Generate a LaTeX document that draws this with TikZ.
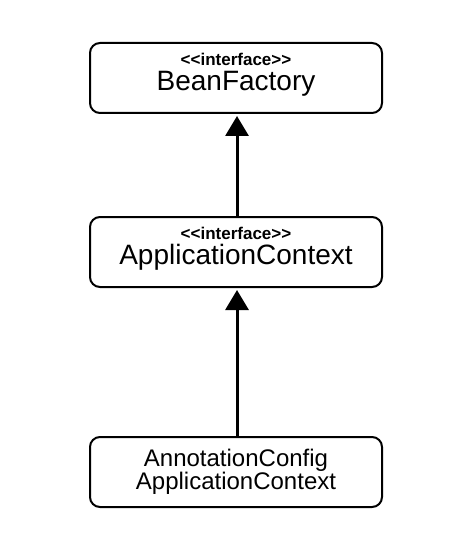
\documentclass[tikz,border=0pt]{standalone}
\usepackage{fontspec}
\newfontfamily\umlfont{Liberation Sans}
\usetikzlibrary{arrows.meta}

\begin{document}
\begin{tikzpicture}[
    x=1pt, y=-1pt,
    class box/.style={draw=black, line width=2pt, rounded corners=10pt, fill=white,
        minimum width=292pt, minimum height=70pt, inner sep=0pt, align=center},
    big name/.style={font=\umlfont\fontsize{28}{25}\selectfont},
    small name/.style={font=\umlfont\fontsize{24}{23.5}\selectfont},
    inherit edge/.style={line width=3pt, -{Triangle[length=20pt, width=23pt]}, shorten >=2pt}
]
\useasboundingbox (0,0) rectangle (448,545);

% interfaces
\node[class box, big name] (BF) at (236,78)
    {{\bfseries\fontsize{17}{25}\selectfont <\kern0pt<interface>\kern0pt>}\\BeanFactory\rule[-12pt]{0pt}{0pt}};
\node[class box, big name] (AC) at (236,252)
    {{\bfseries\fontsize{17}{25}\selectfont <\kern0pt<interface>\kern0pt>}\\ApplicationContext\rule[-12pt]{0pt}{0pt}};

% implementation
\node[class box, small name] (AAC) at (236,472)
    {AnnotationConfig\\ApplicationContext};

\draw[inherit edge] (AC.north -| 237,0) -- (BF.south -| 237,0);
\draw[inherit edge] (AAC.north -| 237,0) -- (AC.south -| 237,0);

\end{tikzpicture}
\end{document}
